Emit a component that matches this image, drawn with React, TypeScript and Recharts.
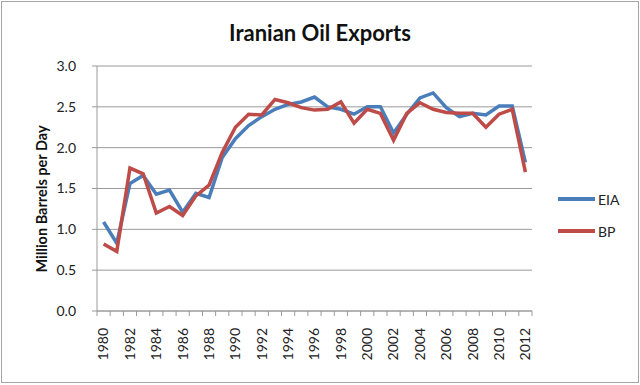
import { LineChart, Line, XAxis, YAxis, CartesianGrid, Legend } from "recharts";

// ── Data ──────────────────────────────────────────────────────────────────────

const years = [
  1980, 1981, 1982, 1983, 1984, 1985, 1986, 1987, 1988, 1989, 1990,
  1991, 1992, 1993, 1994, 1995, 1996, 1997, 1998, 1999, 2000,
  2001, 2002, 2003, 2004, 2005, 2006, 2007, 2008, 2009, 2010, 2011, 2012,
];

const eia = [
  1.09, 0.83, 1.56, 1.66, 1.43, 1.48, 1.21, 1.44, 1.39, 1.88, 2.11,
  2.27, 2.38, 2.47, 2.53, 2.56, 2.62, 2.5, 2.47, 2.41, 2.5,
  2.5, 2.18, 2.41, 2.61, 2.67, 2.49, 2.38, 2.42, 2.4, 2.51, 2.51, 1.82,
];

const bp = [
  0.82, 0.73, 1.75, 1.68, 1.2, 1.28, 1.17, 1.41, 1.54, 1.94, 2.25,
  2.41, 2.4, 2.59, 2.55, 2.49, 2.46, 2.47, 2.56, 2.3, 2.47,
  2.42, 2.09, 2.42, 2.55, 2.47, 2.43, 2.42, 2.42, 2.25, 2.41, 2.47, 1.7,
];

const yearLabels = [
  1980, 1982, 1984, 1986, 1988, 1990, 1992, 1994, 1996,
  1998, 2000, 2002, 2004, 2006, 2008, 2010, 2012,
];

const yTicks = [0, 0.5, 1, 1.5, 2, 2.5, 3];

const series = [
  { key: "EIA", color: "#4a7ebb" },
  { key: "BP", color: "#be4b48" },
];

const data = years.map((year, i) => ({ year, EIA: eia[i], BP: bp[i] }));

// tick marks sit between categories, labels on every other category
const boundaries = [...years.map(y => y - 0.5), years[years.length - 1] + 0.5];
const xTicks = [...boundaries, ...yearLabels].sort((a, b) => a - b);

const FONT = "Lato, 'Noto Sans', sans-serif";
const GRID = "#9a9a9a";

// ── Custom x tick ─────────────────────────────────────────────────────────────

function XTick({ x, y, payload }: any) {
  const v = payload.value as number;
  if (v % 1 !== 0) {
    return <line x1={x} y1={y} x2={x} y2={y + 5} stroke={GRID} strokeWidth={1} />;
  }
  return (
    <text
      transform={`translate(${x},${y + 17}) rotate(-90)`}
      dy="0.35em"
      textAnchor="end"
      fontSize={14}
      fontFamily={FONT}
      fill="#222"
    >
      {v}
    </text>
  );
}

function LegendBox() {
  return (
    <div style={{ fontFamily: FONT, fontSize: 14, color: "#222" }}>
      {series.map((s, i) => (
        <div key={s.key} style={{ display: "flex", alignItems: "center", height: 18, marginTop: i ? 14 : 0 }}>
          <span style={{ width: 37, height: 3.5, background: s.color, marginRight: 3 }} />
          {s.key}
        </div>
      ))}
    </div>
  );
}

export default function App() {
  return (
    <div style={{ position: "fixed", left: 0, top: 0, width: 640, height: 385, background: "#fff" }}>
      <div
        style={{
          position: "absolute", left: 1, top: 1, width: 638, height: 382,
          border: "1px solid #a6a6a6", boxSizing: "border-box",
        }}
      />
      <div
        style={{
          position: "absolute", left: 0, top: 19, width: 640, textAlign: "center",
          fontFamily: FONT, fontWeight: 700, fontSize: 22, color: "#111",
        }}
      >
        Iranian Oil Exports
      </div>
      <div
        style={{
          position: "absolute", left: 41, top: 199, transform: "translate(-50%, -50%) rotate(-90deg)",
          whiteSpace: "nowrap", fontFamily: FONT, fontWeight: 700, fontSize: 14.5, color: "#111",
        }}
      >
        Million Barrels per Day
      </div>

      <LineChart width={640} height={385} data={data} margin={{ top: 66, right: 108, bottom: 0, left: 57 }}>
        <CartesianGrid horizontal vertical={false} stroke={GRID} />
        <XAxis
          dataKey="year"
          type="number"
          domain={[1979.5, 2012.5]}
          ticks={xTicks}
          interval={0}
          tick={(p: any) => <XTick {...p} />}
          tickLine={false}
          tickSize={0}
          tickMargin={0}
          axisLine={{ stroke: GRID }}
          height={74}
        />
        <YAxis
          domain={[0, 3]}
          ticks={yTicks}
          tickFormatter={(v: number) => v.toFixed(1)}
          tick={{ fontSize: 14, fontFamily: FONT, fill: "#222" }}
          tickLine={{ stroke: GRID }}
          tickSize={5}
          tickMargin={16}
          axisLine={{ stroke: GRID }}
          width={40}
          interval={0}
        />
        <Legend
          layout="vertical"
          align="center"
          verticalAlign="middle"
          content={() => <LegendBox />}
          wrapperStyle={{ left: 558, top: 190, width: 80, height: 60 }}
        />
        {series.map(s => (
          <Line
            key={s.key}
            dataKey={s.key}
            stroke={s.color}
            strokeWidth={3.5}
            dot={false}
            type="linear"
            isAnimationActive={false}
          />
        ))}
      </LineChart>
    </div>
  );
}
